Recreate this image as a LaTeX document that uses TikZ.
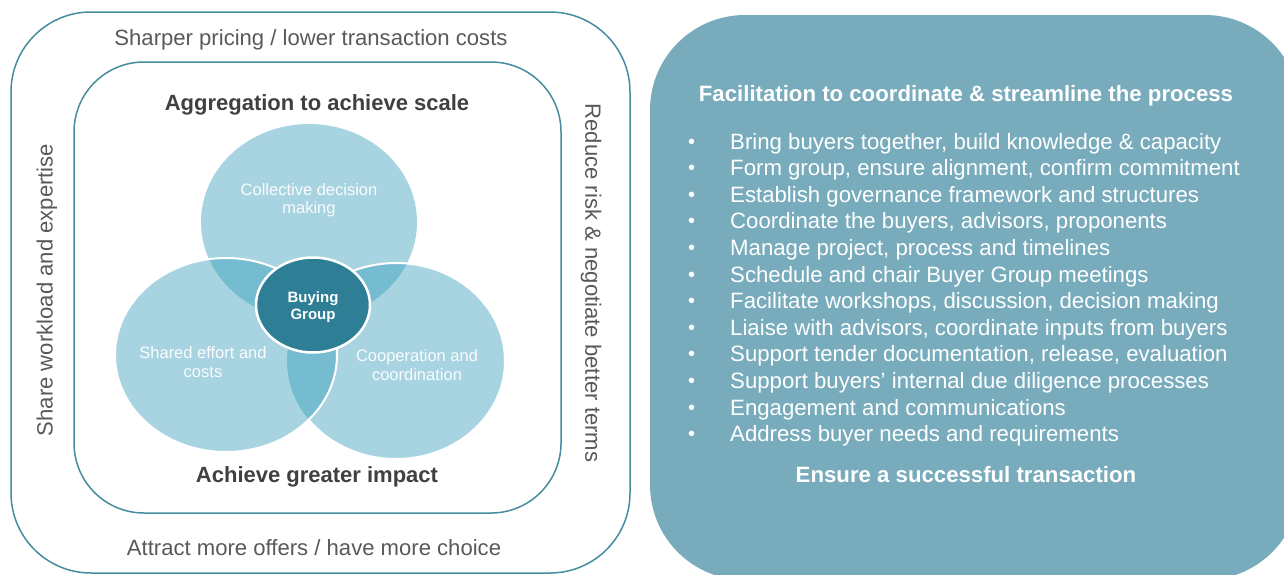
\documentclass[tikz,border=0pt]{standalone}
\usepackage{fontspec}
\setmainfont{Liberation Sans}
\usetikzlibrary{shapes.geometric}
\definecolor{boxline}{RGB}{70,140,160}
\definecolor{rightfill}{RGB}{120,172,188}
\definecolor{circlight}{RGB}{168,212,225}
\definecolor{circdark}{RGB}{118,188,208}
\definecolor{bgcore}{RGB}{46,127,150}
\definecolor{txtgray}{RGB}{89,89,89}
\definecolor{txtdark}{RGB}{64,64,64}
\tikzset{
  framebox/.style={draw=boxline, line width=1.5pt},
  sidetxt/.style={text=txtgray, font=\fontsize{22.1}{26}\selectfont, inner sep=0pt},
  headtxt/.style={text=txtdark, font=\bfseries\fontsize{22}{26}\selectfont, inner sep=0pt},
  circtxt/.style={text=white!94!circlight, font=\fontsize{16.5}{18.5}\selectfont, align=center, inner sep=0pt},
  righthead/.style={text=white, font=\bfseries\fontsize{22.2}{26}\selectfont, inner sep=0pt},
  itemtxt/.style={text=white, font=\fontsize{22.2}{26}\selectfont, inner sep=0pt, anchor=base west},
}
\begin{document}
\begin{tikzpicture}[x=1pt,y=-1pt]
\useasboundingbox (0,0) rectangle (1284,574);
\clip (0,0) rectangle (1284,574);

% frames
\draw[framebox, rounded corners=80pt] (11,12) rectangle (630,573);
\draw[framebox, rounded corners=70pt] (74,62) rectangle (561,513);

% right panel
\fill[rightfill, rounded corners=95pt] (650,15) rectangle (1300,580);

% Venn circles
\coordinate (ct) at (309,222);
\coordinate (cl) at (226,355);
\coordinate (cr) at (396,361);
\def\vtop{(ct) ellipse [x radius=108pt, y radius=98pt]}
\def\vleft{(cl) ellipse [x radius=111pt, y radius=97pt]}
\def\vright{(cr) ellipse [x radius=109pt, y radius=98pt]}
\fill[circlight] \vtop;
\fill[circlight] \vright;
\begin{scope}\clip \vtop; \fill[circdark] \vright; \end{scope}
\draw[white, line width=2pt] \vright;
\fill[circlight] \vleft;
\begin{scope}\clip \vleft; \fill[circdark] \vtop; \fill[circdark] \vright; \end{scope}
\draw[white, line width=2pt] \vleft;

\node[ellipse, fill=bgcore, draw=white, line width=2.5pt, minimum width=114pt, minimum height=95pt, inner sep=0pt] (core) at (313,305) {};
\node[text=white, font=\bfseries\fontsize{15}{17}\selectfont, align=center, inner sep=0pt] (coretxt) at (313,307) {Buying\\Group};

\node[circtxt] (t1) at (309,200) {Collective decision\\making};
\node[circtxt] (t2) at (203,362) {Shared effort and\\costs};
\node[circtxt] (t3) at (417,365) {Cooperation and\\coordination};

% left texts
\node[sidetxt] (s1) at (311,40) {Sharper pricing / lower transaction costs};
\node[sidetxt] (s2) at (314,548) {Attract more offers / have more choice};
\node[sidetxt, rotate=90] (s3) at (47,290) {Share workload and expertise};
\node[sidetxt, rotate=-90] (s4) at (591,283) {Reduce risk \& negotiate better terms};
\node[headtxt] (h1) at (317,105) {Aggregation to achieve scale};
\node[headtxt] (h2) at (317,477) {Achieve greater impact};

% right texts
\node[righthead] (r0) at (966,96) {Facilitation to coordinate \& streamline the process};
\foreach \i/\t in {0/{Bring buyers together, build knowledge \& capacity},
                   1/{Form group, ensure alignment, confirm commitment},
                   2/{Establish governance framework and structures},
                   3/{Coordinate the buyers, advisors, proponents},
                   4/{Manage project, process and timelines},
                   5/{Schedule and chair Buyer Group meetings},
                   6/{Facilitate workshops, discussion, decision making},
                   7/{Liaise with advisors, coordinate inputs from buyers},
                   8/{Support tender documentation, release, evaluation},
                   9/{Support buyers’ internal due diligence processes},
                   10/{Engagement and communications},
                   11/{Address buyer needs and requirements}}{
  \node[itemtxt] (b\i) at (730,{149+26.6*\i}) {\t};
  \node[itemtxt, font=\fontsize{20}{24}\selectfont] (d\i) at (688,{148+26.6*\i}) {•};
}
\node[righthead] (r1) at (966,475) {Ensure a successful transaction};
\end{tikzpicture}
\end{document}
